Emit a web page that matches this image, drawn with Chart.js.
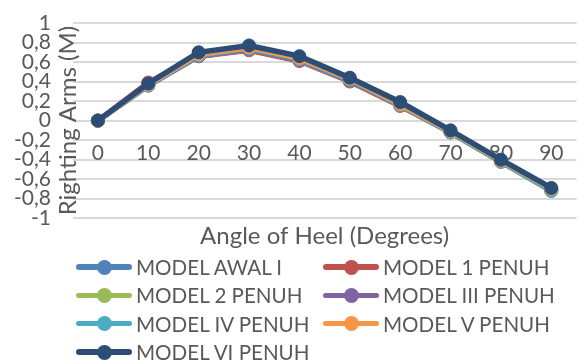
<!DOCTYPE html>
<html>
<head>
<meta charset="utf-8">
<script src="https://cdn.jsdelivr.net/npm/chart.js@4"></script>
<style>
  html, body { margin: 0; padding: 0; background: #ffffff; }
  #wrap { position: relative; width: 584px; height: 361px; }
  #legend {
    position: absolute; left: 76px; top: 253px;
    display: grid; grid-template-columns: 247px 247px; grid-auto-rows: 28.3px;
    font-family: Lato, sans-serif; font-size: 20.6px; color: #595959;
  }
  .item { display: flex; align-items: center; white-space: nowrap; }
  .sw { position: relative; width: 56px; height: 28px; flex: none; }
  .sw .ln { position: absolute; left: 0; right: 0; top: 11.25px; height: 5.5px; border-radius: 3px; }
  .sw .dt { position: absolute; left: 20.5px; top: 6.5px; width: 15px; height: 15px; border-radius: 50%; }
  .item .t { margin-left: 4px; }
</style>
</head>
<body>
<div id="wrap">
  <canvas id="c" width="584" height="361"></canvas>
  <div id="legend"></div>
</div>
<script>
// Heel angles (degrees) on the category axis
const angles = ['0', '10', '20', '30', '40', '50', '60', '70', '80', '90'];

// Righting arm (m) for each hull model
const modelAwalI   = [0, 0.36, 0.66, 0.73, 0.62, 0.41, 0.16, -0.12, -0.42, -0.72];
const model1Penuh  = [0, 0.39, 0.66, 0.72, 0.61, 0.40, 0.15, -0.12, -0.42, -0.71];
const model2Penuh  = [0, 0.36, 0.66, 0.73, 0.62, 0.41, 0.16, -0.12, -0.42, -0.71];
const modelIIIPenuh = [0, 0.36, 0.66, 0.73, 0.62, 0.41, 0.16, -0.12, -0.42, -0.71];
const modelIVPenuh = [0, 0.36, 0.67, 0.74, 0.63, 0.42, 0.16, -0.12, -0.42, -0.72];
const modelVPenuh  = [0, 0.37, 0.68, 0.75, 0.64, 0.43, 0.17, -0.11, -0.41, -0.70];
const modelVIPenuh = [0, 0.38, 0.70, 0.77, 0.66, 0.44, 0.19, -0.10, -0.40, -0.69];

const seriesNames = ['MODEL AWAL I', 'MODEL 1 PENUH', 'MODEL 2 PENUH', 'MODEL III PENUH',
                     'MODEL IV PENUH', 'MODEL V PENUH', 'MODEL VI PENUH'];
const seriesValues = [modelAwalI, model1Penuh, model2Penuh, modelIIIPenuh,
                      modelIVPenuh, modelVPenuh, modelVIPenuh];
const seriesColors = ['#4F81BD', '#C0504D', '#9BBB59', '#8064A2', '#4BACC6', '#F79646', '#2C4D75'];

const yTicks = { min: -1, max: 1, step: 0.2 };

const TEXT = '#595959';
const FONT = 'Lato, sans-serif';

const datasets = seriesNames.map((name, i) => ({
  label: name,
  data: seriesValues[i],
  borderColor: seriesColors[i],
  backgroundColor: seriesColors[i],
  pointBackgroundColor: seriesColors[i],
  pointBorderColor: seriesColors[i],
  borderWidth: 5.5,
  pointRadius: 6.5,
  pointBorderWidth: 1,
  tension: 0,
  // later series are painted over earlier ones
  order: seriesNames.length - 1 - i,
  xAxisID: 'x',
  yAxisID: 'y'
}));

// Legend laid out as a two-column grid under the plot
const htmlLegend = {
  id: 'htmlLegend',
  afterUpdate(chart) {
    const box = document.getElementById('legend');
    box.innerHTML = '';
    chart.data.datasets.forEach((ds) => {
      const item = document.createElement('div');
      item.className = 'item';
      const sw = document.createElement('span');
      sw.className = 'sw';
      const ln = document.createElement('span');
      ln.className = 'ln';
      ln.style.background = ds.borderColor;
      const dt = document.createElement('span');
      dt.className = 'dt';
      dt.style.background = ds.borderColor;
      sw.appendChild(ln);
      sw.appendChild(dt);
      const t = document.createElement('span');
      t.className = 't';
      t.textContent = ds.label;
      item.appendChild(sw);
      item.appendChild(t);
      box.appendChild(item);
    });
  }
};

const fmt = (v) => {
  const r = Math.round(v * 10) / 10;
  return (r === 0 ? '0' : String(r)).replace('.', ',');
};

new Chart(document.getElementById('c'), {
  type: 'line',
  data: { labels: angles, datasets },
  plugins: [htmlLegend],
  options: {
    responsive: false,
    animation: false,
    devicePixelRatio: 1,
    layout: { padding: { top: 23, right: 0, bottom: 106, left: 11 } },
    plugins: { legend: { display: false }, tooltip: { enabled: false } },
    scales: {
      x: {
        type: 'category',
        position: { y: 0 },
        offset: true,
        grid: { display: false, drawTicks: false },
        border: { display: false },
        ticks: { color: TEXT, font: { family: FONT, size: 21 }, padding: 20, maxRotation: 0, autoSkip: false }
      },
      x2: {
        type: 'category',
        position: 'bottom',
        offset: true,
        grid: { display: false, drawTicks: false },
        border: { display: false },
        ticks: { display: false },
        title: { display: true, text: 'Angle of Heel (Degrees)', color: TEXT,
                 font: { family: FONT, size: 24 }, padding: { top: 4, bottom: 4 } }
      },
      y: {
        type: 'linear',
        position: 'left',
        weight: 1,
        min: yTicks.min,
        max: yTicks.max,
        grid: { color: '#D9D9D9', lineWidth: 2, drawTicks: false },
        border: { display: false },
        ticks: { stepSize: yTicks.step, autoSkip: false, color: TEXT,
                 font: { family: FONT, size: 21 }, padding: 3, callback: fmt }
      },
      yTitle: {
        type: 'linear',
        position: 'left',
        weight: 0,
        min: yTicks.min,
        max: yTicks.max,
        grid: { display: false, drawTicks: false },
        border: { display: false },
        ticks: { display: false },
        title: { display: true, text: 'Righting Arms (M)', color: TEXT,
                 font: { family: FONT, size: 24 }, padding: { top: 0, bottom: -10 } }
      }
    }
  }
});
</script>
</body>
</html>
